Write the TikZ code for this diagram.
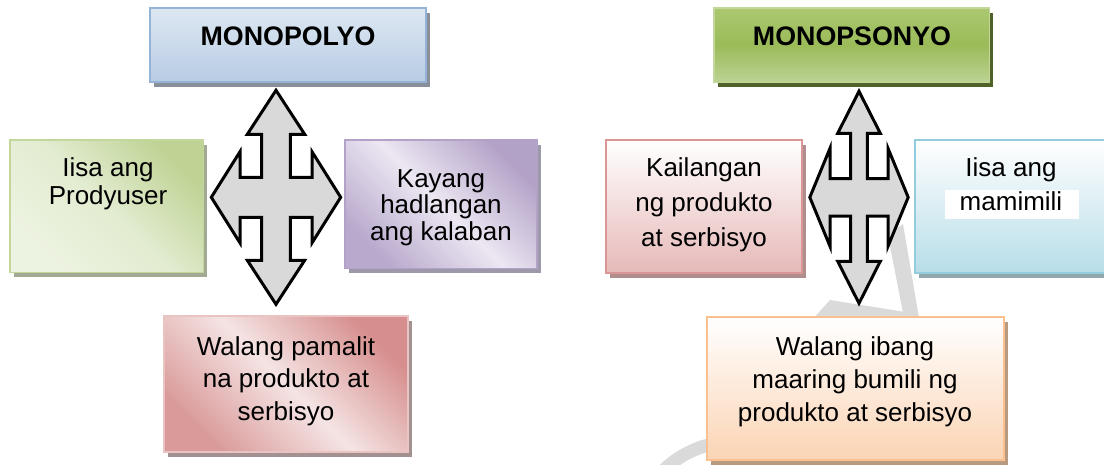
\documentclass[tikz,border=0pt]{standalone}
\usepackage{fontspec}
\setmainfont{Liberation Sans}
\definecolor{wm}{HTML}{DADADA}
\definecolor{arrfill}{HTML}{D9D9D9}
\definecolor{monoTop}{HTML}{DDE7F2}
\definecolor{monoBot}{HTML}{B8CCE4}
\definecolor{monoBd}{HTML}{95B3D7}
\definecolor{monoSh}{HTML}{8A9099}
\definecolor{mpsTop}{HTML}{ABC870}
\definecolor{mpsMid}{HTML}{9BBB59}
\definecolor{mpsBot}{HTML}{BDD394}
\definecolor{mpsBd}{HTML}{C3D69B}
\definecolor{mpsSh}{HTML}{4F6228}
\definecolor{gTop}{HTML}{BFD395}
\definecolor{gMid}{HTML}{E2ECD0}
\definecolor{gBot}{HTML}{EDF3E1}
\definecolor{gBd}{HTML}{C3D69B}
\definecolor{gSh}{HTML}{A2AA93}
\definecolor{pTop}{HTML}{B3A2C7}
\definecolor{pMid}{HTML}{ECE7F2}
\definecolor{pBot}{HTML}{B9AACD}
\definecolor{pBd}{HTML}{B3A2C7}
\definecolor{pSh}{HTML}{9E98AB}
\definecolor{rTop}{HTML}{D68F8E}
\definecolor{rMid}{HTML}{F5E4E4}
\definecolor{rBot}{HTML}{D99A99}
\definecolor{rBd}{HTML}{E9C4C3}
\definecolor{rSh}{HTML}{A39090}
\definecolor{kBot}{HTML}{E6B9B8}
\definecolor{kBd}{HTML}{D99694}
\definecolor{kSh}{HTML}{B08E8E}
\definecolor{cBot}{HTML}{B7DDE8}
\definecolor{cBd}{HTML}{93CDDD}
\definecolor{cSh}{HTML}{91A7AD}
\definecolor{oBot}{HTML}{FBD4B4}
\definecolor{oBd}{HTML}{FAC090}
\definecolor{oSh}{HTML}{B89A80}
\newcommand\QuadArr[8]{%
  \draw[quadarr] (0,-#1) -- (#3,-#2) -- (#4,-#2) -- (#4,-#5) -- (#6,-#5) -- (#6,-#7) -- (#8,0)
    -- (#6,#7) -- (#6,#5) -- (#4,#5) -- (#4,#2) -- (#3,#2) -- (0,#1)
    -- (-#3,#2) -- (-#4,#2) -- (-#4,#5) -- (-#6,#5) -- (-#6,#7) -- (-#8,0)
    -- (-#6,-#7) -- (-#6,-#5) -- (-#4,-#5) -- (-#4,-#2) -- (-#3,-#2) -- cycle;}
\begin{document}
\begin{tikzpicture}[x=1pt,y=-1pt,
  box/.style={draw=#1, line width=1.8pt, inner sep=0pt},
  shdw/.style={preaction={fill=#1, transform canvas={shift={(4pt,-5pt)}}}},
  quadarr/.style={draw=black, fill=arrfill, line width=3pt, line join=miter},
  txt/.style={font=\fontsize{26}{#1}\selectfont, align=center, anchor=base, inner sep=0pt},
  head/.style={font=\bfseries\fontsize{26.8}{30}\selectfont, anchor=base, inner sep=0pt}]
\useasboundingbox (0,0) rectangle (1104,464);
% faint watermark
\fill[wm] (888,236) -- (903,224) -- (919,318) -- (904,318) -- cycle;
\fill[wm] (830,300) -- (918,314) -- (918,320) -- (812,320) -- cycle;
\draw[wm, line width=13pt] (735,545) circle (103.5);
% boxes
\node[box=monoBd, shdw=monoSh, top color=monoTop, bottom color=monoBot,
  minimum width=276pt, minimum height=74pt] (mono) at (288,45) {};
\node[box=mpsBd, shdw=mpsSh, top color=mpsTop, bottom color=mpsBot, middle color=mpsMid,
  minimum width=275.5pt, minimum height=74.5pt] (mps) at (851.7,45.2) {};
\node[box=gBd, shdw=gSh, top color=gTop, bottom color=gBot, middle color=gMid, shading angle=-45,
  minimum width=193.5pt, minimum height=132.5pt] (prod) at (106.7,206.2) {};
\node[box=pBd, shdw=pSh, top color=pTop, bottom color=pBot, middle color=pMid, shading angle=-45,
  minimum width=191.7pt, minimum height=128.5pt] (kaya) at (440.8,204.2) {};
\node[box=rBd, shdw=rSh, top color=rTop, bottom color=rBot, middle color=rMid, shading angle=-45,
  minimum width=244.3pt, minimum height=135.7pt] (pamalit) at (286.2,383.8) {};
\node[box=kBd, shdw=kSh, top color=white, bottom color=kBot,
  minimum width=195.7pt, minimum height=133.3pt] (kail) at (703.8,206.7) {};
\node[box=cBd, shdw=cSh, top color=white, bottom color=cBot,
  minimum width=193pt, minimum height=133.3pt] (mami) at (1011.5,206.7) {};
\node[box=oBd, shdw=oSh, top color=white, bottom color=oBot,
  minimum width=296.7pt, minimum height=143.3pt] (ibang) at (855.7,388.3) {};
\fill[white] (945,190) rectangle (1079,219.3);
% texts (base anchor = baseline of the last line)
\node[head] (tmono) at (288,45.7) {MONOPOLYO};
\node[head] (tmps) at (852,45.7) {MONOPSONYO};
\node[txt=27.3] (tprod) at (108,204) {Iisa ang\\Prodyuser};
\node[txt=26.5] (tkaya) at (441,240.3) {Kayang\\hadlangan\\ang kalaban};
\node[txt=32.5] (tpam) at (286,420) {Walang pamalit\\na produkto at\\serbisyo};
\node[txt=35] (tkail) at (704,246.7) {Kailangan\\ng produkto\\at serbisyo};
\node[txt=33.3] (tmami) at (1011,210) {Iisa ang\\mamimili};
\node[txt=33.3] (tibang) at (855,421.6) {Walang ibang\\maaring bumili ng\\produkto at serbisyo};
% four-way arrows
\begin{scope}[shift={(276,197.3)}]
  \QuadArr{107}{63}{28.7}{14.3}{20}{36}{45.6}{64.7}
\end{scope}
\begin{scope}[shift={(859,197.3)}]
  \QuadArr{106}{64}{21.3}{8.3}{18.8}{29}{49}{49.2}
\end{scope}
\end{tikzpicture}
\end{document}
